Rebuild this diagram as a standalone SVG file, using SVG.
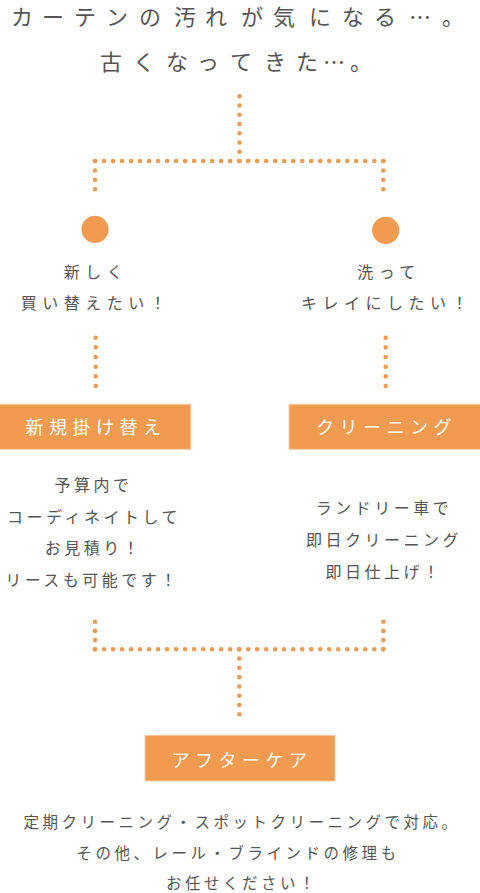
<svg xmlns="http://www.w3.org/2000/svg" width="480" height="893" viewBox="0 0 480 893">
<style>
text{font-family:"Noto Sans CJK JP","Noto Sans",sans-serif;fill:#555;text-anchor:middle;font-weight:400}
.title{font-size:22px}
.q{font-size:16px;letter-spacing:5.5px}
.d{font-size:16px;letter-spacing:3.5px}
.b{font-size:15.5px;letter-spacing:3.5px}
.lab{font-size:18px;letter-spacing:5.5px;fill:#fff}
.box{fill:#F09B50;stroke:#F7C9A0;stroke-width:1}
.dot{fill:none;stroke:#F09B50;stroke-width:4.6;stroke-linecap:round}
.circ{fill:#F09B50}
</style>
<g id="title">
<text class="title" y="24.5" x="22 53 85 117 150 185 216 252 284 320 353 385 420 453">カーテンの汚れが気になる…。</text>
<text class="title" y="69.5" x="111 144 177 208 241 275 307 334 361">古くなってきた…。</text>
</g>
<g id="connectors">
<path class="dot" d="M239.5 96.3V161.5" stroke-dasharray="0 9.243"/>
<path class="dot" d="M95 161H383.8" stroke-dasharray="0 9.009"/>
<path class="dot" d="M95 161V189.8" stroke-dasharray="0 9.433"/>
<path class="dot" d="M383.3 161V189.8" stroke-dasharray="0 9.433"/>
<path class="dot" d="M95.7 337.7V386.5" stroke-dasharray="0 9.66"/>
<path class="dot" d="M385.7 337.7V386.5" stroke-dasharray="0 9.66"/>
<path class="dot" d="M95 621.7V649.8" stroke-dasharray="0 9.2"/>
<path class="dot" d="M383.3 621.7V649.8" stroke-dasharray="0 9.2"/>
<path class="dot" d="M95 649.3H383.8" stroke-dasharray="0 9.009"/>
<path class="dot" d="M239.3 649.3V714.8" stroke-dasharray="0 9.286"/>
</g>
<g id="choice-new">
<circle class="circ" cx="95" cy="229.3" r="13.6"/>
<text class="q" x="96" y="277.5">新しく</text>
<text class="q" x="96" y="309.3">買い替えたい！</text>
</g>
<g id="choice-clean">
<circle class="circ" cx="385.7" cy="230.3" r="13.6"/>
<text class="q" x="389" y="277.5">洗って</text>
<text class="q" x="387" y="309.3">キレイにしたい！</text>
</g>
<g id="node-new">
<rect class="box" x="-1" y="404.3" width="191.7" height="45"/>
<text class="lab" x="96" y="433.5">新規掛け替え</text>
</g>
<g id="node-clean">
<rect class="box" x="289" y="404.3" width="192" height="45"/>
<text class="lab" x="386.5" y="433.5">クリーニング</text>
</g>
<g id="desc-new">
<text class="d" x="93.5" y="491">予算内で</text>
<text class="d" x="94" y="522.7">コーディネイトして</text>
<text class="d" x="93.5" y="554.3">お見積り！</text>
<text class="d" x="92.5" y="586">リースも可能です！</text>
</g>
<g id="desc-clean">
<text class="d" x="384" y="514.3">ランドリー車で</text>
<text class="d" x="384" y="546">即日クリーニング</text>
<text class="d" x="384" y="577.7">即日仕上げ！</text>
</g>
<g id="node-aftercare">
<rect class="box" x="145" y="735.3" width="190" height="45.7"/>
<text class="lab" x="242" y="767">アフターケア</text>
</g>
<g id="desc-aftercare">
<text class="b" x="242" y="827.7">定期クリーニング・スポットクリーニングで対応。</text>
<text class="b" x="238" y="859">その他、レール・ブラインドの修理も</text>
<text class="b" x="242" y="889">お任せください！</text>
</g>
</svg>
